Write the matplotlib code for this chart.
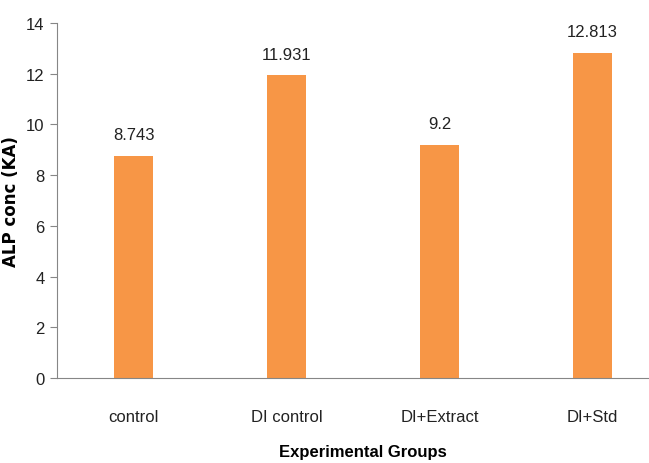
import numpy as np
from matplotlib import pyplot as plt

groups = ['control', 'DI control', 'DI+Extract', 'DI+Std']
alp = [8.743, 11.931, 9.2, 12.813]
labels = ['8.743', '11.931', '9.2', '12.813']

plt.rcParams['font.family'] = ['Liberation Sans', 'DejaVu Sans']

fig = plt.figure(figsize=(6.49, 4.64), dpi=100)
ax = fig.add_axes([57 / 649, 85 / 464, 612 / 649, 355 / 464])

x = np.arange(len(groups))
ax.bar(x, alp, width=0.255, color='#F79646')
for xi, v, s in zip(x, alp, labels):
    ax.text(xi, v + 0.55, s, ha='center', va='bottom', fontsize=12, color='#222222')

ax.set_xlim(-0.5, len(groups) - 0.5)
ax.set_ylim(0, 14)
ax.set_yticks(np.arange(0, 15, 2))
ax.set_xticks(x)
ax.set_xticklabels(groups, fontsize=12, color='#222222')
ax.tick_params(axis='x', length=0, pad=22)
ax.tick_params(axis='y', length=5, color='#868686', labelsize=12,
               labelcolor='#222222', pad=4)

for side in ['top', 'right']:
    ax.spines[side].set_visible(False)
for side in ['left', 'bottom']:
    ax.spines[side].set_color('#868686')

ax.set_xlabel('Experimental Groups', fontsize=12, fontweight='bold', labelpad=15)
ax.set_ylabel('ALP conc (KA)', fontsize=12, fontweight='bold',
              family='DejaVu Sans')
ax.yaxis.set_label_coords(-37 / 612, 0.5)

fig.savefig('out.png', dpi=100)
